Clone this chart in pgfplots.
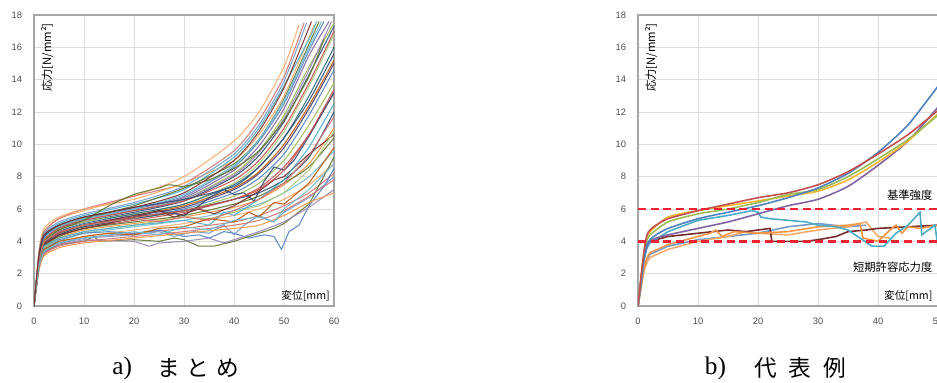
\documentclass[border=0pt]{standalone}
\usepackage{pgfplots}
\pgfplotsset{compat=1.18}
\usepackage{fontspec}
\setmainfont{Liberation Sans}
\newfontfamily\jp{Noto Sans CJK JP}
\newfontfamily\capserif{Liberation Serif}
\definecolor{c1}{HTML}{4F81BD}
\definecolor{c2}{HTML}{C0504D}
\definecolor{c3}{HTML}{9BBB59}
\definecolor{c4}{HTML}{8064A2}
\definecolor{c5}{HTML}{4BACC6}
\definecolor{c6}{HTML}{F79646}
\definecolor{c7}{HTML}{2C4D75}
\definecolor{c8}{HTML}{772C2A}
\definecolor{c9}{HTML}{5F7530}
\definecolor{c10}{HTML}{4D3B62}
\definecolor{c11}{HTML}{276A7C}
\definecolor{c12}{HTML}{B65708}
\definecolor{c13}{HTML}{729ACA}
\definecolor{c14}{HTML}{CD7371}
\definecolor{c15}{HTML}{AFC97A}
\definecolor{c16}{HTML}{9983B5}
\definecolor{c17}{HTML}{6FBDD1}
\definecolor{c18}{HTML}{F9AB6B}
\definecolor{framegray}{HTML}{A6A6A6}
\definecolor{gridgray}{HTML}{DDDDDD}
\definecolor{refred}{HTML}{EE2233}
\pgfplotsset{
  excel/.style={
    scale only axis,
    width=225pt, height=218.25pt,
    ymin=0, ymax=18, ytick={0,2,...,18},
    axis line style={framegray, line width=1pt},
    grid=major, major grid style={gridgray, line width=0.5pt},
    major tick length=0pt,
    tick label style={font=\fontsize{7}{8}\selectfont, text=black!70},
    /pgf/number format/assume math mode=true,
    yticklabel style={xshift=-5.5pt},
    xticklabel style={yshift=-5.5pt},
    clip=true,
  },
  L/.style={line width=0.8pt, opacity=0.9},
  R/.style={line width=1.2pt},
}
\begin{document}
\begin{tikzpicture}
\path[use as bounding box] (0,0) rectangle (702.75pt,286.5pt);
% ---------------- left chart
\begin{axis}[excel, at={(25.5pt,57pt)}, anchor=south west,
  xmin=0, xmax=60, xtick={0,10,...,60}]
\addplot[L, c18, smooth, tension=0.4] coordinates {(0,0)(1,3.3)(2,4.6)(5,5.4)(10,5.9)(20,6.8)(30,8.0)(40,10.2)(45,12.0)(50,14.8)(53,17.4)};
\addplot[L, c14, smooth, tension=0.4] coordinates {(0,0)(1,3.3)(2,4.6)(5,5.4)(10,6.0)(20,6.8)(30,7.6)(40,9.6)(45,11.5)(50,14.2)(54,17.5)};
\addplot[L, c18, smooth, tension=0.4] coordinates {(0,0)(1,3.4)(2,4.8)(5,5.5)(10,6.0)(20,6.6)(30,7.6)(40,9.0)(45,10.6)(50,13.0)(55,16.6)(56,17.4)};
\addplot[L, c1, smooth, tension=0.4] coordinates {(0,0)(1,3.0)(2,4.2)(5,4.9)(10,5.4)(20,6.0)(30,6.8)(40,8.6)(45,10.2)(50,12.5)(55,15.8)(58,17.6)};
\addplot[L, c3, smooth, tension=0.4] coordinates {(0,0)(1,2.9)(2,4.1)(5,4.8)(10,5.3)(20,5.9)(30,6.6)(40,8.2)(45,9.6)(50,11.8)(55,14.8)(60,17.5)};
\addplot[L, c4, smooth, tension=0.4] coordinates {(0,0)(1,3.0)(2,4.3)(5,4.9)(10,5.4)(20,6.0)(30,6.7)(40,8.4)(45,9.9)(50,12.2)(55,15.5)(59,17.6)};
\addplot[L, c5, smooth, tension=0.4] coordinates {(0,0)(1,3.1)(2,4.4)(5,5.1)(10,5.6)(20,6.3)(30,7.2)(40,9.2)(45,11.0)(50,13.6)(55,16.5)(56.5,17.6)};
\addplot[L, c7, smooth, tension=0.4] coordinates {(0,0)(1,2.8)(2,4.0)(5,4.7)(10,5.2)(20,5.8)(30,6.5)(40,8.0)(45,9.3)(50,11.4)(55,14.3)(60,17.3)};
\addplot[L, c9, smooth, tension=0.4] coordinates {(0,0)(1,2.9)(2,4.2)(5,4.9)(10,5.4)(20,6.2)(30,7.3)(40,8.8)(45,10.3)(50,12.8)(55,16.2)(57,17.6)};
\addplot[L, c15, smooth, tension=0.4] coordinates {(0,0)(1,3.0)(2,4.1)(5,4.7)(10,5.2)(20,5.7)(30,6.3)(40,7.6)(45,8.8)(50,10.8)(55,13.6)(60,16.8)};
\addplot[L, c11, smooth, tension=0.4] coordinates {(0,0)(1,2.8)(2,3.9)(5,4.6)(10,5.1)(20,5.7)(30,6.3)(40,7.5)(45,8.6)(50,10.4)(55,13.0)(60,16.0)};
\addplot[L, c13, smooth, tension=0.4] coordinates {(0,0)(1,3.2)(2,4.5)(5,5.2)(10,5.7)(20,6.4)(30,7.4)(40,9.4)(45,11.2)(50,13.9)(54.5,17.5)};
\addplot[L, c12, smooth, tension=0.4] coordinates {(0,0)(1,2.7)(2,3.9)(5,4.5)(10,5.0)(20,5.6)(30,6.2)(40,7.3)(45,8.3)(50,10.0)(55,12.4)(60,15.2)};
\addplot[L, c16, smooth, tension=0.4] coordinates {(0,0)(1,3.0)(2,4.2)(5,4.8)(10,5.3)(20,5.9)(30,6.6)(40,8.1)(45,9.5)(50,11.6)(55,14.6)(59.5,17.6)};
\addplot[L, c2, smooth, tension=0.4] coordinates {(0,0)(1,2.9)(2,4.1)(5,4.8)(10,5.3)(20,5.9)(30,6.5)(40,7.8)(45,9.0)(50,11.0)(55,13.8)(60,17.0)};
\addplot[L, c1, smooth, tension=0.4] coordinates {(0,0)(1,2.8)(2,3.9)(5,4.5)(10,5.0)(20,5.5)(30,6.0)(40,7.0)(45,7.9)(50,9.4)(55,11.8)(60,14.6)};
\addplot[L, c3, smooth, tension=0.4] coordinates {(0,0)(1,2.7)(2,3.8)(5,4.4)(10,4.9)(20,5.4)(30,5.9)(40,6.8)(45,7.6)(50,9.0)(55,11.2)(60,13.8)};
\addplot[L, c10, smooth, tension=0.4] coordinates {(0,0)(1,2.8)(2,3.9)(5,4.5)(10,5.0)(20,5.6)(30,6.1)(40,7.2)(45,8.2)(50,9.8)(55,12.2)(60,15.0)};
\addplot[L, c17, smooth, tension=0.4] coordinates {(0,0)(1,3.0)(2,4.2)(5,4.9)(10,5.4)(20,6.0)(30,6.9)(40,8.7)(45,10.3)(50,12.7)(55,16.0)(57.5,17.6)};
\addplot[L, c2, smooth, tension=0.4] coordinates {(0,0)(1,2.6)(2,3.7)(5,4.3)(10,4.8)(20,5.3)(30,5.8)(40,6.6)(45,7.3)(50,8.6)(55,10.6)(60,13.2)};
\addplot[L, c7, smooth, tension=0.4] coordinates {(0,0)(1,2.7)(2,3.8)(5,4.4)(10,4.9)(20,5.4)(30,5.9)(40,6.6)(45,7.0)(50,7.8)(55,9.2)(60,12.0)};
\addplot[L, c6, smooth, tension=0.4] coordinates {(0,0)(1,2.6)(2,3.6)(5,4.2)(10,4.7)(20,5.1)(30,5.5)(40,6.1)(45,6.6)(50,7.5)(55,8.8)(60,11.0)};
\addplot[L, c9, smooth, tension=0.4] coordinates {(0,0)(1,2.7)(2,3.7)(5,4.3)(10,4.8)(20,5.2)(30,5.6)(40,6.3)(45,6.8)(50,7.6)(55,8.6)(60,10.4)};
\addplot[L, c17, smooth, tension=0.4] coordinates {(0,0)(1,2.5)(2,3.5)(5,4.0)(10,4.5)(20,4.9)(30,5.3)(40,5.9)(45,6.3)(50,7.0)(55,8.0)(60,9.6)};
\addplot[L, c18, smooth, tension=0.4] coordinates {(0,0)(1,2.5)(2,3.4)(5,3.9)(10,4.3)(20,4.7)(30,5.1)(40,5.6)(45,6.0)(50,6.6)(55,7.5)(60,8.8)};
\addplot[L, c14, smooth, tension=0.4] coordinates {(0,0)(1,2.4)(2,3.3)(5,3.8)(10,4.2)(20,4.5)(30,4.8)(40,5.2)(45,5.6)(50,6.2)(55,7.0)(60,8.2)};
\addplot[L, c1] coordinates {(0,0)(1,2.6)(2,3.6)(5,4.1)(10,4.5)(15,4.6)(20,4.5)(25,4.7)(30,4.3)(33,4.4)(35,4.2)(38,4.6)(40,4.5)(43,4.2)(46,4.4)(48,4.3)(49.5,3.5)(51,4.6)(53,5.0)(55,6.2)(58,7.4)(60,8.5)};
\addplot[L, c9] coordinates {(0,0)(1,2.5)(2,3.4)(5,3.8)(10,4.0)(12,4.3)(13,4.0)(20,4.1)(25,4.0)(28,4.2)(30,4.1)(33,3.7)(36,3.7)(40,4.0)(45,4.5)(48,4.8)(50,5.1)(55,6.3)(60,9.2)};
\addplot[L, c7] coordinates {(0,0)(1,2.8)(2,3.9)(5,4.6)(10,5.0)(20,5.5)(25,5.9)(30,5.6)(33,6.2)(35,6.7)(38,7.2)(40,6.9)(42,7.0)(44,6.5)(46,7.7)(48,8.6)(50,8.4)(52,9.0)(55,10.5)(60,13.2)};
\addplot[L, c8] coordinates {(0,0)(1,2.7)(2,3.8)(5,4.4)(10,4.8)(15,5.1)(20,5.5)(25,5.9)(28,5.5)(30,5.7)(33,6.0)(36,5.7)(40,6.2)(45,7.1)(48,7.8)(50,8.0)(55,9.4)(60,10.6)};
\addplot[L, c9, smooth, tension=0.4] coordinates {(0,0)(1,2.9)(2,4.0)(5,4.7)(10,5.3)(15,6.2)(20,6.9)(25,7.3)(27,7.5)(30,7.4)(35,7.8)(40,8.5)(45,9.6)(50,11.5)(55,14.2)(58,16.5)};
\addplot[L, c13] coordinates {(0,0)(1,2.6)(2,3.5)(5,3.9)(10,4.2)(20,4.4)(25,4.6)(28,4.3)(32,4.6)(35,4.5)(38,5.0)(40,4.4)(42,5.0)(45,5.6)(48,5.2)(50,5.8)(55,6.7)(60,8.0)};
\addplot[L, c16] coordinates {(0,0)(1,2.4)(2,3.3)(5,3.8)(10,4.1)(20,4.0)(23,3.7)(25,3.9)(30,4.0)(35,4.2)(38,3.9)(40,4.1)(45,4.6)(50,5.2)(55,6.1)(60,7.2)};
\addplot[L, c6, smooth, tension=0.4] coordinates {(0,0)(1,2.2)(2,3.1)(5,3.6)(10,3.9)(20,4.2)(30,4.5)(40,4.8)(45,5.0)(50,5.6)(55,6.4)(60,7.0)};
\addplot[L, c2, smooth, tension=0.4] coordinates {(0,0)(1,2.8)(2,3.9)(5,4.5)(10,5.0)(20,5.5)(30,5.9)(40,6.6)(45,7.2)(50,8.4)(55,10.6)(60,13.4)};
\addplot[L, c15] coordinates {(0,0)(1,2.6)(2,3.6)(5,4.2)(10,4.6)(20,5.0)(30,5.5)(35,5.4)(40,5.8)(45,6.2)(50,7.0)(55,8.4)(60,10.8)};
\addplot[L, c5] coordinates {(0,0)(1,2.7)(2,3.7)(5,4.2)(10,4.6)(20,5.0)(30,5.3)(35,5.0)(38,5.8)(40,5.6)(45,6.6)(50,7.8)(55,9.8)(60,12.5)};
\addplot[L, c14, smooth, tension=0.4] coordinates {(0,0)(1,2.3)(2,3.2)(5,3.7)(10,4.0)(20,4.3)(30,4.6)(40,5.0)(45,5.3)(50,5.9)(55,6.8)(60,7.8)};
\addplot[L, c7, smooth, tension=0.4] coordinates {(0,0)(1,3.0)(2,4.3)(5,5.0)(10,5.5)(20,6.1)(30,6.6)(40,7.4)(45,8.6)(50,10.4)(55,12.7)(60,15.6)};
\addplot[L, c12] coordinates {(0,0)(1,2.5)(2,3.5)(5,4.0)(10,4.3)(15,4.5)(20,4.4)(25,4.8)(30,4.9)(35,5.4)(40,5.2)(43,5.8)(45,5.5)(48,6.4)(50,6.3)(55,7.6)(60,9.8)};
\addplot[L, c14] coordinates {(0,0)(1,2.9)(2,4.0)(5,4.6)(10,5.0)(20,5.4)(25,5.2)(30,5.5)(35,5.3)(40,5.9)(45,6.6)(50,7.6)(55,9.3)(60,11.7)};
\addplot[L, c17] coordinates {(0,0)(1,2.5)(2,3.4)(5,3.9)(10,4.2)(15,4.4)(20,4.6)(25,4.4)(30,4.9)(35,4.7)(40,5.3)(45,5.5)(48,5.2)(50,6.0)(55,7.2)(60,8.8)};
\addplot[L, c8, smooth, tension=0.4] coordinates {(0,0)(1,3.2)(2,4.4)(5,5.0)(10,5.5)(20,6.1)(30,7.0)(40,9.0)(45,10.8)(50,13.5)(55.5,17.6)};
\node[rotate=90, anchor=north east, font=\jp\fontsize{8.5}{9}\selectfont, inner sep=1pt] at ([xshift=4pt,yshift=-5pt]rel axis cs:0,1) {応力[N/mm²]};
\node[anchor=south east, font=\jp\fontsize{8}{9}\selectfont, inner sep=1pt, fill=white] at ([xshift=-2pt,yshift=2pt]rel axis cs:1,0) {変位[\textit{mm}]};
\end{axis}
% ---------------- right chart
\begin{axis}[excel, at={(478.5pt,57pt)}, anchor=south west,
  xmin=0, xmax=50, xtick={0,10,...,50}]
\addplot[R, c13] coordinates {(0,0)(0.5,1.2)(1,2.4)(1.5,2.9)(2,3.2)(5,3.7)(10,4.1)(15,4.3)(20,4.5)(25,4.9)(30,5.1)(35,4.9)(38,5.0)};
\addplot[R, c18] coordinates {(0,0)(0.5,1.1)(1,2.2)(1.5,2.7)(2,3.0)(5,3.5)(10,4.0)(15,4.3)(18,4.6)(20,4.5)(25,4.4)(30,4.7)(35,4.9)(38,5.2)(40,4.3)(42,4.2)};
\addplot[R, c8] coordinates {(0,0)(0.5,1.6)(1,3.2)(1.5,3.8)(2,4.0)(5,4.3)(10,4.5)(15,4.7)(18,4.6)(22,4.8)(22.3,4.0)(28,4.0)(30,4.1)(33,4.3)(35,4.6)(38,4.7)(40,4.8)(45,4.9)(50,5.0)};
\addplot[R, c6] coordinates {(0,0)(0.5,1.2)(1,2.4)(1.5,3.0)(2,3.3)(5,3.8)(10,4.3)(12,4.5)(13,4.7)(14,4.3)(16,4.6)(20,4.5)(25,4.6)(30,4.9)(35,5.0)(37,5.1)(37.5,4.2)(40,4.0)(42,4.7)(43,5.0)(44,4.5)(45,4.9)(47,4.8)(50,5.0)};
\addplot[R, c5] coordinates {(0,0)(0.5,1.4)(1,2.8)(1.5,3.6)(2,3.9)(5,4.6)(10,5.3)(15,5.6)(19,5.9)(20,5.8)(20.5,5.5)(22,5.4)(25,5.3)(28,5.2)(30,5.0)(33,4.9)(35,4.7)(37,4.2)(39,3.7)(41,3.7)(43,4.5)(45,5.0)(47,5.8)(47.3,4.4)(48,4.6)(49.5,5.0)(50,3.6)};
\addplot[R, c4, smooth, tension=0.4] coordinates {(0,0)(0.5,1.5)(1,3.0)(1.5,3.7)(2,4.0)(3,4.2)(5,4.4)(10,4.8)(15,5.2)(20,5.7)(25,6.2)(30,6.6)(35,7.4)(40,8.7)(45,10.2)(50,12.3)};
\addplot[R, c6!70!yellow, smooth, tension=0.4] coordinates {(0,0)(0.5,1.7)(1,3.3)(1.5,4.3)(2,4.6)(5,5.5)(10,5.9)(15,6.2)(20,6.5)(25,6.8)(30,7.1)(35,7.8)(40,8.9)(45,10.2)(50,11.9)};
\addplot[R, c3, smooth, tension=0.4] coordinates {(0,0)(0.5,1.6)(1,3.2)(1.5,4.1)(2,4.4)(5,5.2)(10,5.7)(15,6.0)(20,6.4)(25,6.9)(30,7.2)(35,8.0)(40,9.1)(45,10.3)(50,11.8)};
\addplot[R, c1, smooth, tension=0.4] coordinates {(0,0)(0.5,1.5)(1,3.0)(1.5,3.8)(2,4.1)(3,4.4)(5,4.8)(10,5.4)(15,5.8)(20,6.2)(25,6.7)(30,7.3)(35,8.2)(40,9.5)(45,11.2)(50,13.6)};
\addplot[R, c2, smooth, tension=0.4] coordinates {(0,0)(0.5,1.8)(1,3.4)(1.5,4.4)(2,4.7)(3,5.0)(5,5.4)(10,5.9)(15,6.3)(20,6.7)(25,7.0)(30,7.5)(35,8.3)(40,9.4)(45,10.6)(50,12.1)};
\addplot[refred, line width=2pt, dash pattern=on 6pt off 3.5pt] coordinates {(0,6)(50,6)};
\addplot[refred, line width=2pt, dash pattern=on 6pt off 3.5pt] coordinates {(0,4)(50,4)};
\node[rotate=90, anchor=north east, font=\jp\fontsize{8.5}{9}\selectfont, inner sep=1pt] at ([xshift=4pt,yshift=-5pt]rel axis cs:0,1) {応力[N/mm²]};
\node[anchor=south east, font=\jp\fontsize{8}{9}\selectfont, inner sep=1pt, fill=white] at ([xshift=-3pt,yshift=2pt]rel axis cs:1,0) {変位[\textit{mm}]};
\node[anchor=south east, font=\jp\fontsize{8.5}{9}\selectfont, inner sep=1pt] at ([xshift=-3pt,yshift=5pt]axis cs:50,6) {基準強度};
\node[anchor=north east, font=\jp\fontsize{8.5}{9}\selectfont, inner sep=1pt] at ([xshift=-3pt,yshift=-14pt]axis cs:50,4) {短期許容応力度};
\end{axis}
% ---------------- captions
\node[anchor=west, inner sep=0pt, font=\capserif\fontsize{19}{20}\selectfont] at (84pt,10.5pt) {a)};
\node[anchor=west, inner sep=0pt, font=\jp\fontsize{17}{18}\selectfont] at (118pt,10.5pt) {ま\hspace{5pt}と\hspace{5pt}め};
\node[anchor=west, inner sep=0pt, font=\capserif\fontsize{19}{20}\selectfont] at (528.5pt,10.5pt) {b)};
\node[anchor=west, inner sep=0pt, font=\jp\fontsize{17}{18}\selectfont] at (565.5pt,10.5pt) {代\hspace{9pt}表\hspace{9pt}例};
\end{tikzpicture}
\end{document}
